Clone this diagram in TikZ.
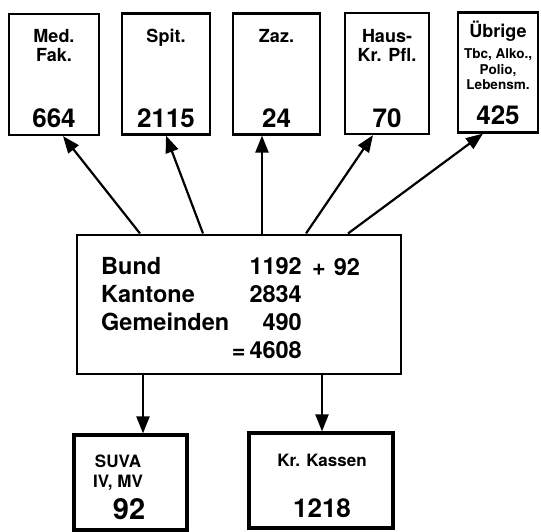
\documentclass[tikz,border=0pt]{standalone}
\usepackage{fontspec}
\setmainfont{TeX Gyre Heros}
\usepackage{tikz}
\usetikzlibrary{arrows.meta}

\begin{document}
\begin{tikzpicture}[
    x=1pt, y=-1pt,
    box/.style={
        rectangle, draw=black, line width=2.2pt, inner sep=0pt,
        minimum width=#1, minimum height=121pt
    },
    kasse/.style={
        rectangle, draw=black, line width=3.2pt, inner sep=0pt,
        minimum width=#1, minimum height=95pt
    },
    lbl/.style={inner sep=0pt, align=center, font=\bfseries\fontsize{18}{19}\selectfont},
    klein/.style={inner sep=0pt, align=center, font=\bfseries\fontsize{13.5}{15.8}\selectfont},
    zahl/.style={inner sep=0pt, font=\bfseries\fontsize{26}{28}\selectfont},
    haupt/.style={inner sep=0pt, align=left, font=\bfseries\fontsize{23.5}{27.7}\selectfont},
    line/.style={draw, line width=2.2pt, -{Triangle[length=17pt,width=13pt]}}
]
    \useasboundingbox (0,0) rectangle (541,532);

    % Ausgaben (base = letzte Zeile)
    \node [box=90pt] (med) at (54,74.5) {};
    \node [lbl, anchor=base] (med-l) at (54,62) {Med.\\Fak.};
    \node [zahl, anchor=base] (med-z) at (54,128) {664};

    \node [box=88pt] (spit) at (166,74) {};
    \node [lbl, anchor=base] (spit-l) at (166,43) {Spit.};
    \node [zahl, anchor=base] (spit-z) at (166,128) {2115};

    \node [box=87pt] (zaz) at (276.5,74) {};
    \node [lbl, anchor=base] (zaz-l) at (276.5,43) {Zaz.};
    \node [zahl, anchor=base] (zaz-z) at (276.5,128) {24};

    \node [box=84pt] (haus) at (387,73.5) {};
    \node [lbl, anchor=base] (haus-l) at (387,62) {Haus-\\Kr. Pfl.};
    \node [zahl, anchor=base] (haus-z) at (387,128) {70};

    \node [box=80pt, minimum height=120pt] (uebr) at (498,72.5) {};
    \node [lbl, anchor=base] (uebr-l) at (498,38) {Übrige};
    \node [klein, anchor=base] (uebr-k) at (498,90) {Tbc, Alko.,\\Polio,\\Lebensm.};
    \node [zahl, anchor=base] (uebr-z) at (498,125) {425};

    % Mittel
    \node [rectangle, draw=black, line width=2pt, inner sep=0pt,
           minimum width=324pt, minimum height=139pt] (mittel) at (239,304) {};
    \node [haupt, anchor=base west] (traeger) at (101,330) {Bund\\Kantone\\Gemeinden};
    \node [haupt, align=right, anchor=base east] (betrag) at (302,358)
        {1192\\2834\\490\\{=}\,4608};
    \node [haupt, anchor=base west] (zusatz) at (312,275) {+\hspace{8pt}92};

    % Empfaenger
    \node [kasse=113pt] (suva) at (130.5,482.5) {};
    \node [lbl, font=\bfseries\fontsize{17}{20}\selectfont, anchor=base] (suva-l) at (118,487) {SUVA\\IV, MV};
    \node [zahl, font=\bfseries\fontsize{29}{30}\selectfont, anchor=base] (suva-z) at (129,519) {92};

    \node [kasse=144pt] (kk) at (321,480.5) {};
    \node [lbl, font=\bfseries\fontsize{17}{20}\selectfont, anchor=base] (kk-l) at (322,466) {Kr. Kassen};
    \node [zahl, anchor=base] (kk-z) at (322,517) {1218};

    \path [line] ([xshift=-99pt]mittel.north) -- ([xshift=9pt]med.south);
    \path [line] ([xshift=-36pt]mittel.north) -- (spit.south);
    \path [line] ([xshift=23pt]mittel.north) -- ([xshift=-14.5pt]zaz.south);
    \path [line] ([xshift=67pt]mittel.north) -- ([xshift=-14pt]haus.south);
    \path [line] ([xshift=109pt]mittel.north) -- ([xshift=-15pt]uebr.south);
    \path [line] ([xshift=-96pt]mittel.south) -- ([xshift=12.5pt]suva.north);
    \path [line] ([xshift=83pt]mittel.south) -- ([xshift=1pt]kk.north);
\end{tikzpicture}
\end{document}
